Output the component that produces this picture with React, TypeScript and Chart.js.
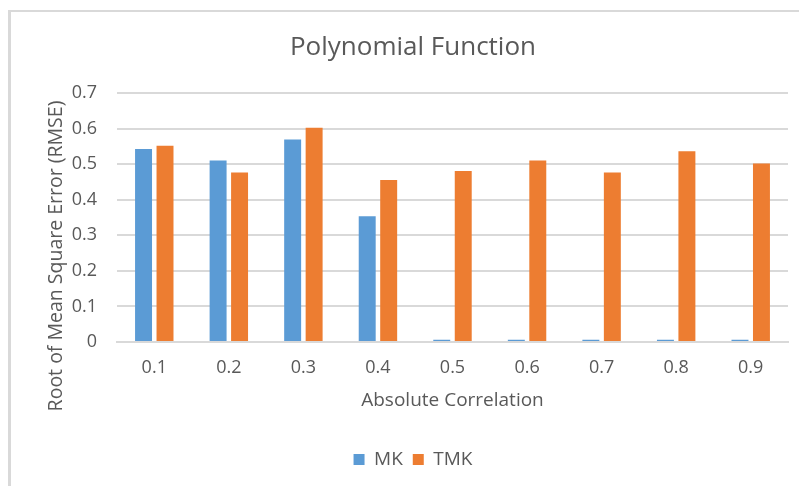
import React, { useEffect, useRef } from "react";
import { Chart, registerables } from "chart.js";

Chart.register(...registerables);

const categories = ["0.1", "0.2", "0.3", "0.4", "0.5", "0.6", "0.7", "0.8", "0.9"];
const mkValues = [0.543, 0.511, 0.570, 0.354, 0.006, 0.006, 0.006, 0.006, 0.006];
const tmkValues = [0.552, 0.477, 0.603, 0.456, 0.481, 0.511, 0.477, 0.537, 0.502];
const seriesNames = ["MK", "TMK"];
const chartTitle = "Polynomial Function";
const xAxisTitle = "Absolute Correlation";
const yAxisTitle = "Root of Mean Square Error (RMSE)";

const FONT = "'Open Sans', 'Noto Sans', sans-serif";
const TEXT = "#595959";
const GRID = "#d9d9d9";

const framePlugin = {
  id: "frame",
  beforeDraw(chart: any) {
    const ctx = chart.ctx;
    ctx.save();
    ctx.fillStyle = "#ffffff";
    ctx.fillRect(0, 0, chart.width, chart.height);
    ctx.fillStyle = GRID;
    ctx.fillRect(8, 10, 3, chart.height - 10);
    ctx.fillRect(8, 10, chart.width - 8, 2);
    ctx.restore();
  },
  afterDraw(chart: any) {
    const ctx = chart.ctx;
    ctx.save();
    ctx.translate(56, 256);
    ctx.rotate(-Math.PI / 2);
    ctx.fillStyle = TEXT;
    ctx.font = `19.5px ${FONT}`;
    ctx.textAlign = "center";
    ctx.textBaseline = "middle";
    ctx.fillText(yAxisTitle, 0, 0);
    ctx.restore();
  },
};

export default function App() {
  const ref = useRef<HTMLCanvasElement | null>(null);

  useEffect(() => {
    if (!ref.current) return;
    const chart = new Chart(ref.current, {
      type: "bar",
      data: {
        labels: categories,
        datasets: [
          {
            label: seriesNames[0],
            data: mkValues,
            backgroundColor: "#5B9BD5",
            categoryPercentage: 0.576,
            barPercentage: 0.79,
          },
          {
            label: seriesNames[1],
            data: tmkValues,
            backgroundColor: "#ED7D31",
            categoryPercentage: 0.576,
            barPercentage: 0.79,
          },
        ],
      },
      options: {
        responsive: false,
        animation: false,
        devicePixelRatio: 1,
        layout: { padding: { left: 38, right: 11, top: 0, bottom: 7 } },
        plugins: {
          title: {
            display: true,
            text: chartTitle,
            color: TEXT,
            font: { family: FONT, size: 26, weight: "normal" },
            padding: { top: 32, bottom: 30 },
          },
          legend: {
            position: "bottom",
            labels: {
              color: TEXT,
              font: { family: FONT, size: 19 },
              boxWidth: 11,
              boxHeight: 11,
              padding: 10,
            },
          },
          tooltip: { enabled: false },
        },
        scales: {
          x: {
            grid: { display: false, drawTicks: false },
            border: { display: true, color: GRID, width: 2 },
            ticks: { color: TEXT, font: { family: FONT, size: 18 }, padding: 15 },
            title: {
              display: true,
              text: xAxisTitle,
              color: TEXT,
              font: { family: FONT, size: 19 },
              padding: { top: 0, bottom: 28 },
            },
            afterFit(scale: any) {
              scale.height = 98;
            },
          },
          y: {
            min: 0,
            max: 0.7,
            grid: { color: GRID, lineWidth: 2, drawTicks: false },
            border: { display: false },
            ticks: {
              stepSize: 0.1,
              color: TEXT,
              font: { family: FONT, size: 18 },
              padding: 20,
              callback: (v: any) => (Number(v) === 0 ? "0" : Number(v).toFixed(1)),
            },
            afterFit(scale: any) {
              scale.width = 79;
            },
          },
        },
      },
      plugins: [framePlugin],
    });
    return () => chart.destroy();
  }, []);

  return (
    <div style={{ position: "fixed", left: 0, top: 0, width: 799, height: 486, background: "#fff" }}>
      <canvas ref={ref} width={799} height={486} style={{ display: "block" }} />
    </div>
  );
}
